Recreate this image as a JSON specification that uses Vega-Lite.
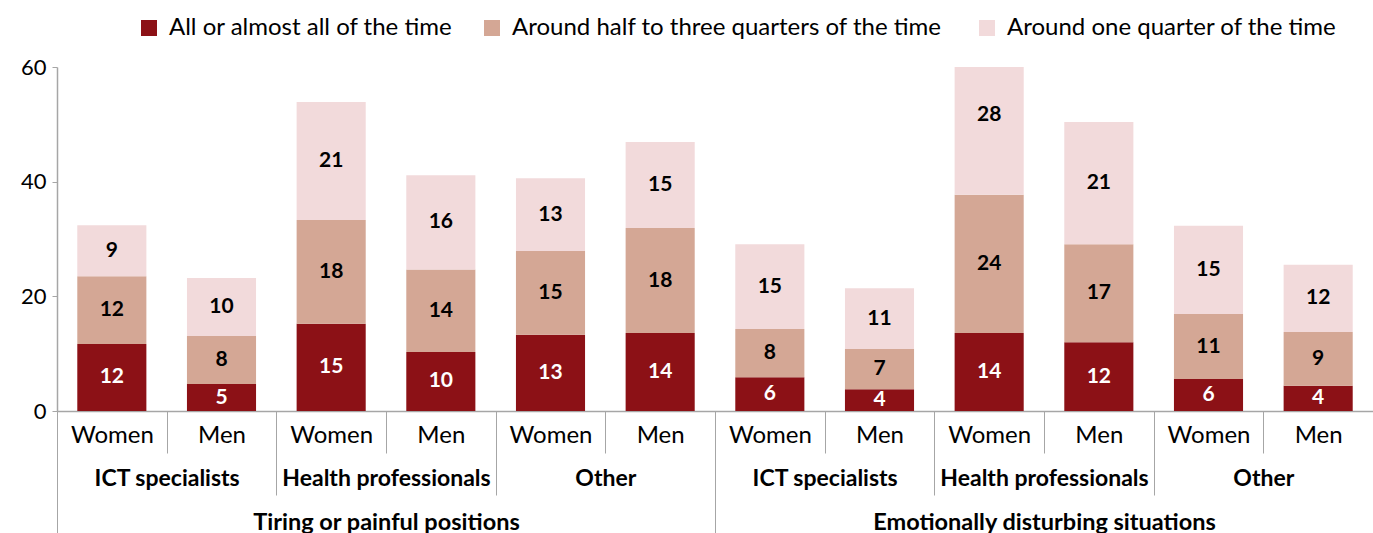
{
  "$schema": "https://vega.github.io/schema/vega-lite/v6.json",
  "width": 1316,
  "height": 344,
  "padding": {"left": 5, "top": 16, "right": 0, "bottom": 0},
  "background": "white",
  "config": {
    "view": {"stroke": null},
    "font": "Lato",
    "axis": {"labelFont": "Lato", "titleFont": "Lato"},
    "legend": {"labelFont": "Lato"}
  },
  "datasets": {
    "bars": [
      {"bar": "Tiring|ICT|Women", "occ": "Tiring|ICT specialists", "cat": "Tiring or painful positions", "series": "All or almost all of the time", "value": 11.7},
      {"bar": "Tiring|ICT|Women", "occ": "Tiring|ICT specialists", "cat": "Tiring or painful positions", "series": "Around  half to three quarters of the time", "value": 11.8},
      {"bar": "Tiring|ICT|Women", "occ": "Tiring|ICT specialists", "cat": "Tiring or painful positions", "series": "Around one quarter of the time", "value": 8.9},
      {"bar": "Tiring|ICT|Men", "occ": "Tiring|ICT specialists", "cat": "Tiring or painful positions", "series": "All or almost all of the time", "value": 4.7},
      {"bar": "Tiring|ICT|Men", "occ": "Tiring|ICT specialists", "cat": "Tiring or painful positions", "series": "Around  half to three quarters of the time", "value": 8.4},
      {"bar": "Tiring|ICT|Men", "occ": "Tiring|ICT specialists", "cat": "Tiring or painful positions", "series": "Around one quarter of the time", "value": 10.1},
      {"bar": "Tiring|Health|Women", "occ": "Tiring|Health professionals", "cat": "Tiring or painful positions", "series": "All or almost all of the time", "value": 15.2},
      {"bar": "Tiring|Health|Women", "occ": "Tiring|Health professionals", "cat": "Tiring or painful positions", "series": "Around  half to three quarters of the time", "value": 18.1},
      {"bar": "Tiring|Health|Women", "occ": "Tiring|Health professionals", "cat": "Tiring or painful positions", "series": "Around one quarter of the time", "value": 20.6},
      {"bar": "Tiring|Health|Men", "occ": "Tiring|Health professionals", "cat": "Tiring or painful positions", "series": "All or almost all of the time", "value": 10.3},
      {"bar": "Tiring|Health|Men", "occ": "Tiring|Health professionals", "cat": "Tiring or painful positions", "series": "Around  half to three quarters of the time", "value": 14.4},
      {"bar": "Tiring|Health|Men", "occ": "Tiring|Health professionals", "cat": "Tiring or painful positions", "series": "Around one quarter of the time", "value": 16.4},
      {"bar": "Tiring|Other|Women", "occ": "Tiring|Other", "cat": "Tiring or painful positions", "series": "All or almost all of the time", "value": 13.3},
      {"bar": "Tiring|Other|Women", "occ": "Tiring|Other", "cat": "Tiring or painful positions", "series": "Around  half to three quarters of the time", "value": 14.6},
      {"bar": "Tiring|Other|Women", "occ": "Tiring|Other", "cat": "Tiring or painful positions", "series": "Around one quarter of the time", "value": 12.7},
      {"bar": "Tiring|Other|Men", "occ": "Tiring|Other", "cat": "Tiring or painful positions", "series": "All or almost all of the time", "value": 13.6},
      {"bar": "Tiring|Other|Men", "occ": "Tiring|Other", "cat": "Tiring or painful positions", "series": "Around  half to three quarters of the time", "value": 18.3},
      {"bar": "Tiring|Other|Men", "occ": "Tiring|Other", "cat": "Tiring or painful positions", "series": "Around one quarter of the time", "value": 15.0},
      {"bar": "Emo|ICT|Women", "occ": "Emo|ICT specialists", "cat": "Emotionally disturbing situations", "series": "All or almost all of the time", "value": 5.9},
      {"bar": "Emo|ICT|Women", "occ": "Emo|ICT specialists", "cat": "Emotionally disturbing situations", "series": "Around  half to three quarters of the time", "value": 8.4},
      {"bar": "Emo|ICT|Women", "occ": "Emo|ICT specialists", "cat": "Emotionally disturbing situations", "series": "Around one quarter of the time", "value": 14.8},
      {"bar": "Emo|ICT|Men", "occ": "Emo|ICT specialists", "cat": "Emotionally disturbing situations", "series": "All or almost all of the time", "value": 3.8},
      {"bar": "Emo|ICT|Men", "occ": "Emo|ICT specialists", "cat": "Emotionally disturbing situations", "series": "Around  half to three quarters of the time", "value": 7.0},
      {"bar": "Emo|ICT|Men", "occ": "Emo|ICT specialists", "cat": "Emotionally disturbing situations", "series": "Around one quarter of the time", "value": 10.6},
      {"bar": "Emo|Health|Women", "occ": "Emo|Health professionals", "cat": "Emotionally disturbing situations", "series": "All or almost all of the time", "value": 13.6},
      {"bar": "Emo|Health|Women", "occ": "Emo|Health professionals", "cat": "Emotionally disturbing situations", "series": "Around  half to three quarters of the time", "value": 24.1},
      {"bar": "Emo|Health|Women", "occ": "Emo|Health professionals", "cat": "Emotionally disturbing situations", "series": "Around one quarter of the time", "value": 28.0},
      {"bar": "Emo|Health|Men", "occ": "Emo|Health professionals", "cat": "Emotionally disturbing situations", "series": "All or almost all of the time", "value": 12.0},
      {"bar": "Emo|Health|Men", "occ": "Emo|Health professionals", "cat": "Emotionally disturbing situations", "series": "Around  half to three quarters of the time", "value": 17.1},
      {"bar": "Emo|Health|Men", "occ": "Emo|Health professionals", "cat": "Emotionally disturbing situations", "series": "Around one quarter of the time", "value": 21.3},
      {"bar": "Emo|Other|Women", "occ": "Emo|Other", "cat": "Emotionally disturbing situations", "series": "All or almost all of the time", "value": 5.6},
      {"bar": "Emo|Other|Women", "occ": "Emo|Other", "cat": "Emotionally disturbing situations", "series": "Around  half to three quarters of the time", "value": 11.3},
      {"bar": "Emo|Other|Women", "occ": "Emo|Other", "cat": "Emotionally disturbing situations", "series": "Around one quarter of the time", "value": 15.4},
      {"bar": "Emo|Other|Men", "occ": "Emo|Other", "cat": "Emotionally disturbing situations", "series": "All or almost all of the time", "value": 4.4},
      {"bar": "Emo|Other|Men", "occ": "Emo|Other", "cat": "Emotionally disturbing situations", "series": "Around  half to three quarters of the time", "value": 9.4},
      {"bar": "Emo|Other|Men", "occ": "Emo|Other", "cat": "Emotionally disturbing situations", "series": "Around one quarter of the time", "value": 11.7}
    ]
  },
  "data": {"name": "bars"},
  "layer": [
    {
      "encoding": {
        "x": {
          "field": "bar", "type": "nominal", "sort": null,
          "scale": {"type": "band", "paddingInner": 0.37, "paddingOuter": 0.185},
          "axis": {
            "orient": "bottom",
            "title": null, "labelAngle": 0,
            "labelExpr": "split(datum.label, '|')[2]",
            "labelFontSize": 24, "labelColor": "#000000",
            "tickSize": 42, "tickColor": "#A6A6A6", "tickWidth": 1,
            "tickOffset": 54.83, "labelOffset": -54.83,
            "labelPadding": -18, "labelBaseline": "middle",
            "domain": true, "domainColor": "#A6A6A6", "domainWidth": 1.5,
            "zindex": 0
          }
        },
        "y": {
          "field": "value", "type": "quantitative", "stack": "zero",
          "scale": {"domain": [0, 60], "nice": false},
          "axis": {
            "title": null, "values": [0, 20, 40, 60], "grid": false,
            "labelFontSize": 22, "labelColor": "#000000",
            "tickSize": 5, "tickColor": "#A6A6A6", "domainColor": "#A6A6A6", "domainWidth": 1.5,
            "labelPadding": 6, "minExtent": 52, "maxExtent": 52
          }
        }
      },
      "layer": [
        {
          "mark": {"type": "bar", "clip": true},
          "encoding": {
            "color": {
              "field": "series", "type": "nominal",
              "scale": {
                "domain": ["All or almost all of the time", "Around  half to three quarters of the time", "Around one quarter of the time"],
                "range": ["#8C1116", "#D4A795", "#F2DADB"]
              },
              "legend": {
                "title": null, "orient": "none", "legendX": 80, "legendY": -51, "direction": "horizontal",
                "symbolType": "square", "symbolSize": 256, "symbolStrokeWidth": 0,
                "labelFontSize": 24, "labelColor": "#000000", "labelOffset": 8,
                "columnPadding": 27, "labelLimit": 500
              }
            },
            "order": {"field": "series", "sort": "ascending"}
          }
        },
        {
          "mark": {"type": "text", "fontSize": 21, "fontWeight": "bold", "baseline": "middle"},
          "encoding": {
            "y": {"field": "value", "type": "quantitative", "stack": "zero", "bandPosition": 0.5},
            "text": {"field": "value", "type": "quantitative", "format": ".0f"},
            "detail": {"field": "series"},
            "order": {"field": "series", "sort": "ascending"},
            "color": {
              "condition": {"test": "datum.series === 'All or almost all of the time'", "value": "#FFFFFF"},
              "value": "#000000"
            }
          }
        }
      ]
    },
    {
      "mark": {"type": "point", "opacity": 0},
      "encoding": {
        "x": {
          "field": "occ", "type": "nominal", "sort": null,
          "scale": {"type": "band", "paddingInner": 0, "paddingOuter": 0},
          "axis": {
            "orient": "bottom",
            "title": null, "labelAngle": 0,
            "labelExpr": "split(datum.label, '|')[1]",
            "labelFontSize": 23, "labelFontWeight": "bold", "labelColor": "#000000",
            "tickBand": "extent", "tickSize": 84, "tickColor": "#A6A6A6", "tickWidth": 1,
            "labelPadding": -17, "labelBaseline": "middle",
            "domain": false, "labelLimit": 300
          }
        },
        "y": {"datum": 0, "type": "quantitative"}
      }
    },
    {
      "mark": {"type": "point", "opacity": 0},
      "encoding": {
        "x": {
          "field": "cat", "type": "nominal", "sort": null,
          "scale": {"type": "band", "paddingInner": 0, "paddingOuter": 0},
          "axis": {
            "orient": "bottom",
            "title": null, "labelAngle": 0,
            "labelFontSize": 23.5, "labelFontWeight": "bold", "labelColor": "#000000",
            "tickBand": "extent", "tickSize": 122, "tickColor": "#A6A6A6", "tickWidth": 1,
            "labelPadding": -11, "labelBaseline": "middle",
            "domain": false, "labelLimit": 600
          }
        },
        "y": {"datum": 0, "type": "quantitative"}
      }
    }
  ],
  "resolve": {"scale": {"x": "independent"}, "axis": {"x": "independent"}}
}
